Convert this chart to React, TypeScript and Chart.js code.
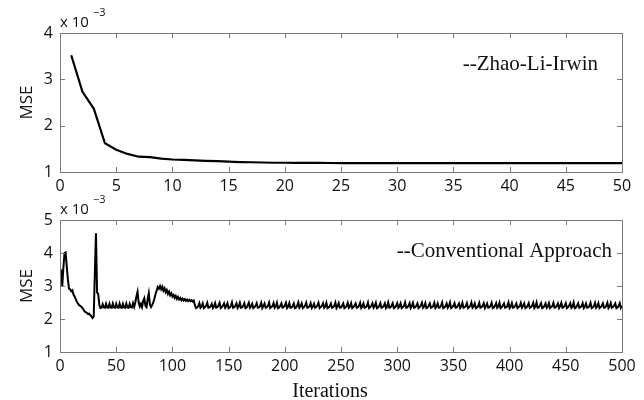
import React, { useEffect, useRef } from 'react';
import { Chart, registerables } from 'chart.js';

Chart.register(...registerables);

// ---------------- data ----------------
const topXTicks = [0, 5, 10, 15, 20, 25, 30, 35, 40, 45, 50];
const topYTicks = [1, 2, 3, 4];
const bottomXTicks = [0, 50, 100, 150, 200, 250, 300, 350, 400, 450, 500];
const bottomYTicks = [1, 2, 3, 4, 5];

const topLabel = '--Zhao-Li-Irwin';
const bottomLabel = '--Conventional Approach';
const xTitle = 'Iterations';
const yTitle = 'MSE';

// Zhao-Li-Irwin MSE (x 10^-3), iterations 1..50
const zhaoMse = [
  3.52, 2.73, 2.37, 1.62, 1.48, 1.39, 1.33, 1.32, 1.29, 1.27,
  1.26, 1.25, 1.24, 1.235, 1.225, 1.215, 1.21, 1.205, 1.2, 1.2,
  1.198, 1.196, 1.195, 1.194, 1.193, 1.193, 1.192, 1.192, 1.192, 1.192,
  1.191, 1.191, 1.191, 1.191, 1.191, 1.191, 1.191, 1.191, 1.191, 1.191,
  1.191, 1.191, 1.191, 1.191, 1.191, 1.191, 1.191, 1.191, 1.191, 1.191,
];

// Conventional approach MSE (x 10^-3), iterations 1..500
const conventionalMse = [
  3.50, 3.00, 3.55, 4.00, 4.02, 3.60, 3.20, 2.92, 2.90, 2.84, 2.87, 2.74, 2.68, 2.60, 2.52, 2.47, 2.42, 2.40, 2.37, 2.33,
  2.28, 2.22, 2.21, 2.18, 2.15, 2.16, 2.11, 2.08, 2.03, 2.08, 3.40, 4.60, 2.80, 2.76, 2.42, 2.33, 2.34, 2.45, 2.35, 2.34,
  2.46, 2.35, 2.34, 2.46, 2.35, 2.34, 2.47, 2.35, 2.34, 2.46, 2.35, 2.34, 2.47, 2.35, 2.34, 2.46, 2.35, 2.34, 2.47, 2.35,
  2.34, 2.46, 2.36, 2.35, 2.48, 2.37, 2.50, 2.68, 2.82, 2.50, 2.38, 2.46, 2.36, 2.55, 2.63, 2.40, 2.36, 2.60, 2.78, 2.44,
  2.36, 2.42, 2.50, 2.62, 2.76, 2.86, 2.97, 2.92, 3.00, 2.90, 2.98, 2.86, 2.93, 2.81, 2.88, 2.76, 2.83, 2.72, 2.78, 2.68,
  2.73, 2.64, 2.70, 2.61, 2.67, 2.59, 2.64, 2.57, 2.62, 2.56, 2.60, 2.55, 2.59, 2.54, 2.58, 2.54, 2.57, 2.53, 2.56, 2.42,
  2.33, 2.35, 2.39, 2.48, 2.34, 2.38, 2.47, 2.33, 2.36, 2.40, 2.49, 2.34, 2.35, 2.39, 2.46, 2.33, 2.38, 2.48, 2.34, 2.36, 2.41, 2.49,
  2.33, 2.36, 2.40, 2.47, 2.34, 2.39, 2.48, 2.33, 2.35, 2.39, 2.50, 2.34, 2.36, 2.40, 2.47, 2.33, 2.38, 2.49, 2.34, 2.35, 2.40, 2.48,
  2.33, 2.35, 2.41, 2.49, 2.34, 2.38, 2.46, 2.33, 2.36, 2.40, 2.48, 2.34, 2.35, 2.39, 2.49, 2.33, 2.39, 2.47, 2.34, 2.36, 2.40, 2.50,
  2.33, 2.36, 2.39, 2.48, 2.34, 2.38, 2.49, 2.33, 2.35, 2.40, 2.47, 2.34, 2.36, 2.41, 2.49, 2.33, 2.38, 2.48, 2.34, 2.35, 2.39, 2.47,
  2.33, 2.35, 2.40, 2.50, 2.34, 2.39, 2.47, 2.33, 2.36, 2.40, 2.49, 2.34, 2.35, 2.39, 2.48, 2.33, 2.38, 2.46, 2.34, 2.36, 2.41, 2.49,
  2.33, 2.36, 2.40, 2.48, 2.34, 2.38, 2.49, 2.33, 2.35, 2.39, 2.47, 2.34, 2.36, 2.40, 2.50, 2.33, 2.39, 2.48, 2.34, 2.35, 2.40, 2.47,
  2.33, 2.35, 2.39, 2.49, 2.34, 2.38, 2.48, 2.33, 2.36, 2.41, 2.47, 2.34, 2.35, 2.40, 2.49, 2.33, 2.38, 2.47, 2.34, 2.36, 2.39, 2.50,
  2.33, 2.36, 2.40, 2.47, 2.34, 2.39, 2.49, 2.33, 2.35, 2.40, 2.48, 2.34, 2.36, 2.39, 2.47, 2.33, 2.38, 2.50, 2.34, 2.35, 2.41, 2.48,
  2.33, 2.35, 2.40, 2.48, 2.34, 2.38, 2.47, 2.33, 2.36, 2.39, 2.50, 2.34, 2.35, 2.40, 2.48, 2.33, 2.39, 2.49, 2.34, 2.36, 2.40, 2.47,
  2.33, 2.36, 2.41, 2.49, 2.34, 2.38, 2.48, 2.33, 2.35, 2.40, 2.47, 2.34, 2.36, 2.39, 2.49, 2.33, 2.38, 2.47, 2.34, 2.35, 2.40, 2.50,
  2.33, 2.35, 2.39, 2.47, 2.34, 2.39, 2.50, 2.33, 2.36, 2.40, 2.48, 2.34, 2.35, 2.41, 2.47, 2.33, 2.38, 2.49, 2.34, 2.36, 2.39, 2.48,
  2.33, 2.36, 2.40, 2.50, 2.34, 2.38, 2.47, 2.33, 2.35, 2.39, 2.49, 2.34, 2.36, 2.40, 2.48, 2.33, 2.39, 2.47, 2.34, 2.35, 2.40, 2.49,
  2.33, 2.35, 2.40, 2.48, 2.34, 2.38, 2.49, 2.33, 2.36, 2.41, 2.47, 2.34, 2.35, 2.39, 2.50, 2.33, 2.38, 2.48, 2.34, 2.36, 2.40, 2.47,
  2.33, 2.36, 2.39, 2.49, 2.34, 2.39, 2.47, 2.33, 2.35, 2.40, 2.48, 2.34, 2.36, 2.40, 2.49, 2.33, 2.38, 2.50, 2.34, 2.35, 2.41, 2.48,
  2.33, 2.35, 2.40, 2.47, 2.34, 2.38, 2.48, 2.33, 2.36, 2.39, 2.49, 2.34, 2.35, 2.40, 2.47, 2.33, 2.39, 2.49, 2.34, 2.36, 2.40, 2.48,
  2.33, 2.36, 2.41, 2.48, 2.34, 2.38, 2.50, 2.33, 2.35, 2.40, 2.47, 2.34, 2.36, 2.39, 2.48, 2.33, 2.38, 2.47, 2.34, 2.35, 2.40, 2.49,
  2.33, 2.35, 2.39, 2.49, 2.34, 2.39, 2.48, 2.33, 2.36, 2.40, 2.47, 2.34, 2.35, 2.40, 2.49, 2.33, 2.38, 2.48, 2.34, 2.36, 2.41, 2.47,
  2.33, 2.35, 2.40, 2.48, 2.34, 2.40,
];

// ---------------- styling ----------------
const SANS = '"Open Sans", "DejaVu Sans", sans-serif';
const SERIF = '"Liberation Serif", "DejaVu Serif", serif';
const TEXT = '#111111';
const FRAME = '#7a7a7a';

function makePlugin(cfg: {
  label: string;
  labelRightInset: number;
  labelBaselineFromTop: number;
  xTitle?: string;
}) {
  return {
    id: 'matlabDecor',
    afterDatasetsDraw(chart: any) {
      const { ctx, chartArea, scales } = chart;
      const { left, right, top, bottom } = chartArea;
      const xs = scales.x;
      const ys = scales.y;
      ctx.save();
      // frame
      ctx.strokeStyle = FRAME;
      ctx.lineWidth = 1;
      ctx.strokeRect(Math.round(left) + 0.5, Math.round(top) + 0.5, Math.round(right - left), Math.round(bottom - top));
      // inward ticks on all four sides
      const tl = 5;
      ctx.beginPath();
      xs.ticks.forEach((t: any) => {
        const px = Math.round(xs.getPixelForValue(t.value)) + 0.5;
        ctx.moveTo(px, bottom);
        ctx.lineTo(px, bottom - tl);
        ctx.moveTo(px, top);
        ctx.lineTo(px, top + tl);
      });
      ys.ticks.forEach((t: any) => {
        const py = Math.round(ys.getPixelForValue(t.value)) + 0.5;
        ctx.moveTo(left, py);
        ctx.lineTo(left + tl, py);
        ctx.moveTo(right, py);
        ctx.lineTo(right - tl, py);
      });
      ctx.stroke();

      // exponent label "x 10^-3"
      ctx.fillStyle = TEXT;
      ctx.textAlign = 'left';
      ctx.textBaseline = 'alphabetic';
      ctx.font = `15px ${SANS}`;
      const base = 'x 10';
      ctx.fillText(base, left, top - 6);
      const w = ctx.measureText(base).width;
      ctx.font = `11px ${SANS}`;
      ctx.fillText('\u22123', left + w + 4, top - 17);

      // series annotation
      ctx.font = `21px ${SERIF}`;
      ctx.textAlign = 'right';
      ctx.fillText(cfg.label, right - cfg.labelRightInset, top + cfg.labelBaselineFromTop);

      // x title
      if (cfg.xTitle) {
        ctx.font = `20px ${SERIF}`;
        ctx.textAlign = 'center';
        ctx.fillText(cfg.xTitle, (left + right) / 2 - 11, bottom + 44.5);
      }
      ctx.restore();
    },
  };
}

function buildConfig(
  values: number[],
  xTicks: number[],
  yTicks: number[],
  yMin: number,
  yMax: number,
  padTop: number,
  xAxisHeight: number,
  lineWidth: number,
  plugin: any
): any {
  const data = values.map((v, i) => ({ x: i + 1, y: v }));
  return {
    type: 'line',
    data: {
      datasets: [
        {
          data,
          borderColor: '#000000',
          borderWidth: lineWidth,
          pointRadius: 0,
          tension: 0,
          fill: false,
        },
      ],
    },
    options: {
      responsive: false,
      animation: false,
      devicePixelRatio: 1,
      events: [],
      layout: { padding: { left: 0, right: 22, top: padTop, bottom: 0 } },
      plugins: { legend: { display: false }, tooltip: { enabled: false }, title: { display: false } },
      scales: {
        x: {
          type: 'linear',
          min: xTicks[0],
          max: xTicks[xTicks.length - 1],
          border: { display: false },
          grid: { display: false, drawTicks: false },
          afterBuildTicks: (scale: any) => {
            scale.ticks = xTicks.map((v) => ({ value: v }));
          },
          afterFit: (scale: any) => {
            scale.height = xAxisHeight;
          },
          ticks: {
            padding: 5,
            color: TEXT,
            font: { family: SANS, size: 16 },
            maxRotation: 0,
            autoSkip: false,
          },
        },
        y: {
          type: 'linear',
          min: yMin,
          max: yMax,
          border: { display: false },
          grid: { display: false, drawTicks: false },
          afterBuildTicks: (scale: any) => {
            scale.ticks = yTicks.map((v) => ({ value: v }));
          },
          afterFit: (scale: any) => {
            scale.width = 60;
          },
          title: {
            display: true,
            text: yTitle,
            color: TEXT,
            font: { family: SANS, size: 17 },
            padding: { top: 17, bottom: 0 },
          },
          ticks: {
            padding: 7,
            color: TEXT,
            font: { family: SANS, size: 16 },
            autoSkip: false,
          },
        },
      },
    },
    plugins: [plugin],
  };
}

export default function App() {
  const topRef = useRef<HTMLCanvasElement | null>(null);
  const bottomRef = useRef<HTMLCanvasElement | null>(null);

  useEffect(() => {
    const top = new Chart(
      topRef.current as HTMLCanvasElement,
      buildConfig(
        zhaoMse,
        topXTicks,
        topYTicks,
        1,
        4,
        33,
        28,
        2.2,
        makePlugin({ label: topLabel, labelRightInset: 24, labelBaselineFromTop: 37 })
      )
    );
    const bottom = new Chart(
      bottomRef.current as HTMLCanvasElement,
      buildConfig(
        conventionalMse,
        bottomXTicks,
        bottomYTicks,
        1,
        5,
        35,
        48,
        2,
        makePlugin({ label: bottomLabel, labelRightInset: 10, labelBaselineFromTop: 37, xTitle })
      )
    );
    return () => {
      top.destroy();
      bottom.destroy();
    };
  }, []);

  return (
    <div style={{ position: 'fixed', left: 0, top: 0, width: 644, height: 400, background: '#ffffff' }}>
      <canvas
        ref={topRef}
        width={644}
        height={200}
        style={{ position: 'absolute', left: 0, top: 0, width: 644, height: 200 }}
      />
      <canvas
        ref={bottomRef}
        width={644}
        height={215}
        style={{ position: 'absolute', left: 0, top: 185, width: 644, height: 215 }}
      />
    </div>
  );
}
